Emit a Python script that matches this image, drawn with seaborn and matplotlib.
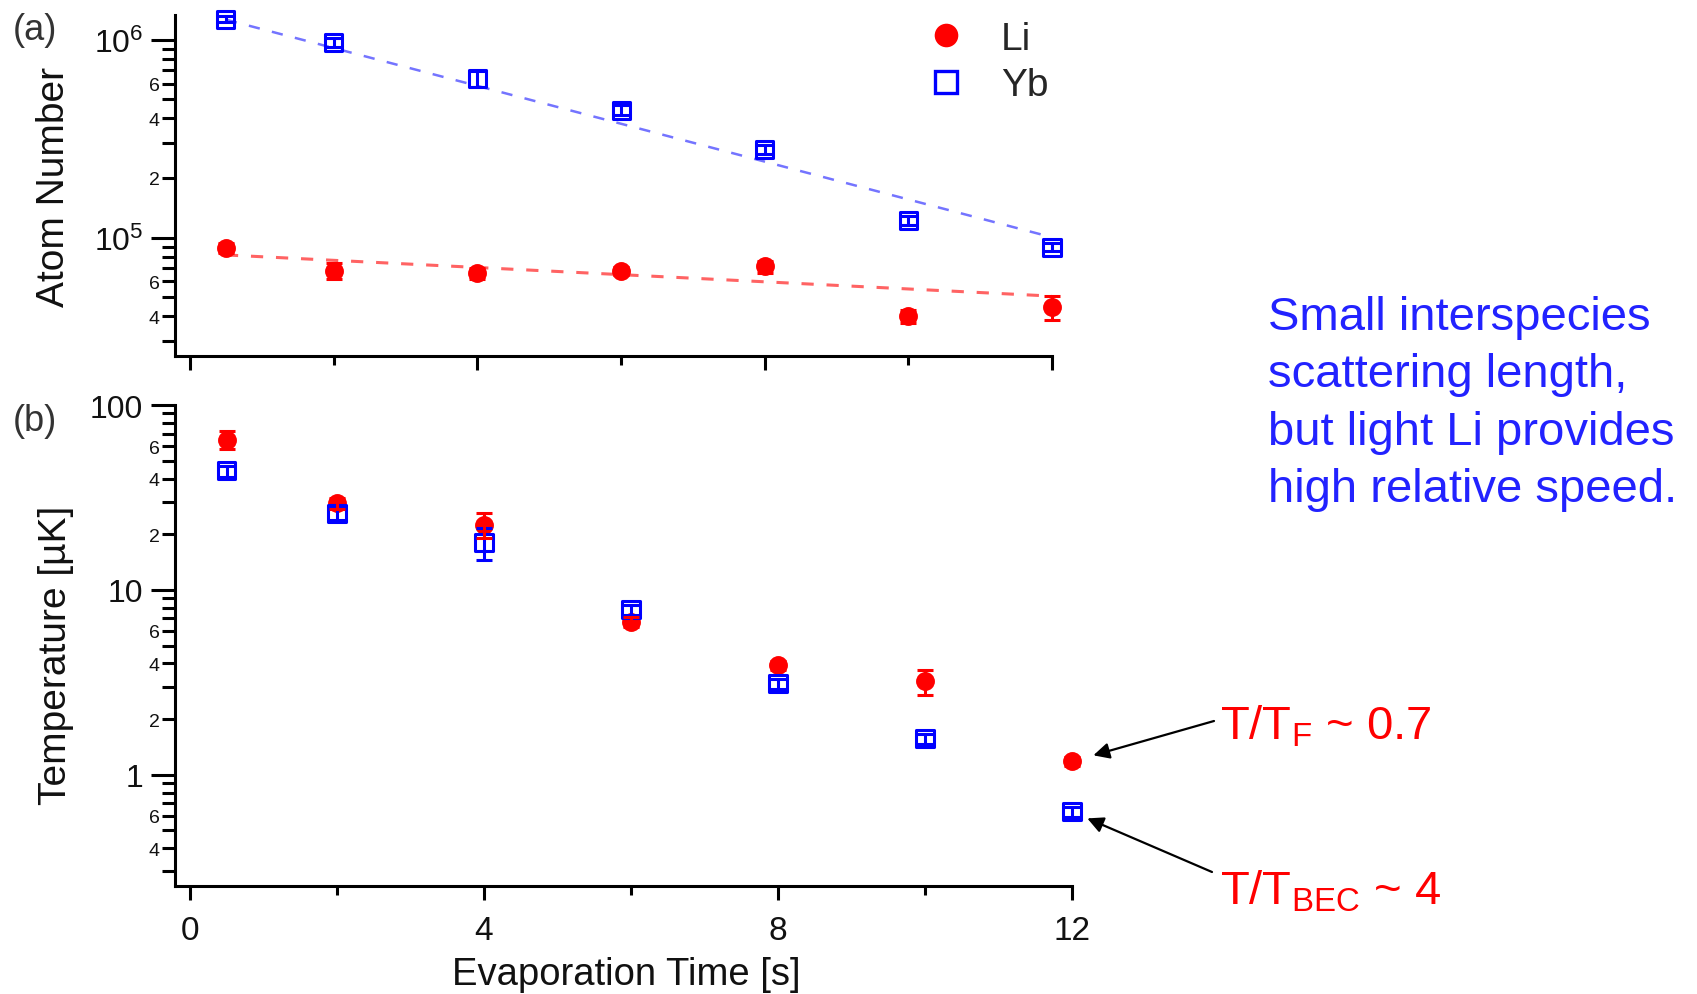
import numpy as np
import pandas as pd
import matplotlib
matplotlib.use("Agg")
import matplotlib.pyplot as plt
import seaborn as sns
from matplotlib.lines import Line2D
from matplotlib.ticker import FixedLocator, FixedFormatter, NullFormatter

# ---------------- data ----------------
# evaporation times [s]
time_s = [0.5, 2, 4, 6, 8, 10, 12]

# (a) atom numbers
li_number = [8.9e4, 6.8e4, 6.6e4, 6.8e4, 7.15e4, 4.0e4, 4.45e4]
li_number_err = [5e3, 6e3, 4e3, 3e3, 5e3, 3e3, 6e3]
yb_number = [1.27e6, 9.7e5, 6.35e5, 4.4e5, 2.8e5, 1.22e5, 8.95e4]
yb_number_err = [4e4, 5e4, 6e4, 2.5e4, 1.5e4, 6e3, 4e3]

# exponential decay fits  N(t) = N0 * exp(-t / tau)
li_fit_n0, li_fit_tau = 8.34e4, 24.0
yb_fit_n0, yb_fit_tau = 1.41e6, 4.54
fit_span = [0.5, 12]

# (b) temperatures [uK]
li_temp = [65, 29.5, 22.5, 6.7, 3.9, 3.2, 1.18]
li_temp_err = [7, 2, 3.5, 0.4, 0.2, 0.5, 0.07]
yb_temp = [44, 26, 18, 7.8, 3.1, 1.57, 0.63]
yb_temp_err = [3, 2, 3.5, 0.5, 0.2, 0.1, 0.04]

species = ["Li", "Yb"]
colors = {"Li": "#ff0000", "Yb": "#0000ff"}

# ---------------- style ----------------
sns.set_theme(style="ticks")
plt.rcParams["font.family"] = ["Liberation Sans", "DejaVu Sans"]
plt.rcParams["mathtext.fontset"] = "custom"
plt.rcParams["mathtext.rm"] = "Liberation Sans"
plt.rcParams["mathtext.it"] = "Liberation Sans:italic"
plt.rcParams["mathtext.bf"] = "Liberation Sans:bold"

W, H = 1697, 995
fig = plt.figure(figsize=(W / 100, H / 100), dpi=100)


def axes_px(left, top, right, bottom):
    return fig.add_axes([left / W, 1 - bottom / H, (right - left) / W, (bottom - top) / H])


ax_a = axes_px(175, 16, 1052, 357)
ax_b = axes_px(175, 406, 1072, 887)

df_a = pd.DataFrame({
    "time": time_s * 2,
    "value": li_number + yb_number,
    "err": li_number_err + yb_number_err,
    "species": ["Li"] * len(time_s) + ["Yb"] * len(time_s),
})
df_b = pd.DataFrame({
    "time": time_s * 2,
    "value": li_temp + yb_temp,
    "err": li_temp_err + yb_temp_err,
    "species": ["Li"] * len(time_s) + ["Yb"] * len(time_s),
})

# fit lines on panel (a)
fit_t = np.array(fit_span, dtype=float)
sns.lineplot(x=fit_t, y=yb_fit_n0 * np.exp(-fit_t / yb_fit_tau), ax=ax_a,
             color="#2a2aff", alpha=0.65, lw=1.8, linestyle=(0, (4.5, 5.0)), zorder=1)
sns.lineplot(x=fit_t, y=li_fit_n0 * np.exp(-fit_t / li_fit_tau), ax=ax_a,
             color="#ff1010", alpha=0.65, lw=2.2, linestyle=(0, (4.0, 4.2)), zorder=1)


def draw_points(ax, df):
    li = df[df.species == "Li"]
    yb = df[df.species == "Yb"]
    sns.scatterplot(data=li, x="time", y="value", ax=ax, color=colors["Li"], marker="o",
                    s=185, linewidth=0, clip_on=False, zorder=3, legend=False)
    sns.scatterplot(data=yb, x="time", y="value", ax=ax, marker="s", s=150,
                    facecolor="none", edgecolor=colors["Yb"], linewidth=2.2,
                    clip_on=False, zorder=4, legend=False)
    for sub, sp in ((yb, "Yb"), (li, "Li")):
        cont = ax.errorbar(sub["time"], sub["value"], yerr=sub["err"], fmt="none",
                           ecolor=colors[sp], elinewidth=2.2, capsize=6, capthick=2.2,
                           zorder=5)
        for art in cont.get_children():
            art.set_clip_on(False)


draw_points(ax_a, df_a)
draw_points(ax_b, df_b)

# ---------------- axes ----------------
for ax in (ax_a, ax_b):
    ax.set_yscale("log")
    sns.despine(ax=ax)
    for s in ("left", "bottom"):
        ax.spines[s].set_linewidth(2.2)
        ax.spines[s].set_color("black")
    ax.tick_params(axis="y", which="major", direction="out", length=17, width=2.2,
                   labelsize=23, pad=6, color="black", labelcolor="#111111")
    ax.tick_params(axis="y", which="minor", direction="out", length=9.5, width=2.2,
                   labelsize=14, pad=1.5, color="black", labelcolor="#111111")
    ax.tick_params(axis="x", which="major", direction="out", length=10, width=2.2,
                   labelsize=24, pad=11, color="black", labelcolor="#111111")
    ax.tick_params(axis="x", which="minor", direction="out", length=6.5, width=2.2,
                   color="black")
    ax.xaxis.set_major_locator(FixedLocator([0, 4, 8, 12]))
    ax.xaxis.set_minor_locator(FixedLocator([2, 6, 10]))
    ax.set_facecolor("white")

# panel (a) axes
ax_a.set_xlim(-0.209, 12)
ax_a.set_ylim(2.52e4, 1.333e6)
ax_a.xaxis.set_major_formatter(NullFormatter())
ax_a.yaxis.set_major_locator(FixedLocator([1e5, 1e6]))
ax_a.yaxis.set_major_formatter(FixedFormatter([r"$\mathregular{10^{5}}$", r"$\mathregular{10^{6}}$"]))
a_minor = [m * 10 ** e for e in (4, 5) for m in range(2, 10) if 2.5e4 < m * 10 ** e < 1.34e6]
a_minor_lab = {4e4: "4", 6e4: "6", 2e5: "2", 4e5: "4", 6e5: "6"}
ax_a.yaxis.set_minor_locator(FixedLocator(a_minor))
ax_a.yaxis.set_minor_formatter(FixedFormatter([a_minor_lab.get(v, "") for v in a_minor]))
ax_a.set_xlabel("")
ax_a.set_ylabel("Atom Number", fontsize=28, color="#111111")
ax_a.yaxis.set_label_coords(-0.117, 0.5)

# panel (b) axes
ax_b.set_xlim(-0.204, 12)
ax_b.set_ylim(0.25, 100)
ax_b.xaxis.set_major_formatter(FixedFormatter(["0", "4", "8", "12"]))
ax_b.yaxis.set_major_locator(FixedLocator([1, 10, 100]))
ax_b.yaxis.set_major_formatter(FixedFormatter(["1", "10", "100"]))
b_minor = [round(m * 10.0 ** e, 3) for e in (-1, 0, 1) for m in range(2, 10) if m * 10.0 ** e > 0.25]
b_minor_lab = {0.4: "4", 0.6: "6", 2.0: "2", 4.0: "4", 6.0: "6", 20.0: "2", 40.0: "4", 60.0: "6"}
ax_b.yaxis.set_minor_locator(FixedLocator(b_minor))
ax_b.yaxis.set_minor_formatter(FixedFormatter([b_minor_lab.get(v, "") for v in b_minor]))
ax_b.set_xlabel("Evaporation Time [s]", fontsize=27.5, color="#111111")
ax_b.xaxis.set_label_coords(0.503, -0.146)
ax_b.set_ylabel("Temperature [µK]", fontsize=28, color="#111111")
ax_b.yaxis.set_label_coords(-0.113, 0.482)

# panel letters
fig.text(13 / W, 1 - 13 / H, "(a)", fontsize=26, color="#333333", ha="left", va="top")
fig.text(13 / W, 1 - 404 / H, "(b)", fontsize=26, color="#333333", ha="left", va="top")

# legend
handles = [
    Line2D([], [], ls="", marker="o", ms=17, color=colors["Li"], mew=0),
    Line2D([], [], ls="", marker="s", ms=15.5, mfc="none", mec=colors["Yb"], mew=2.4),
]
ax_a.legend(handles, species, loc="upper left", bbox_to_anchor=(927 / W, 1 - 22 / H),
            bbox_transform=fig.transFigure, frameon=False, borderpad=0, borderaxespad=0,
            handlelength=1.0, handletextpad=0.9, labelspacing=0.27, fontsize=28)

# commentary on the right
note_lines = ["Small interspecies", "scattering length,", "but light Li provides",
              "high relative speed."]
for i, line in enumerate(note_lines):
    fig.text(1268 / W, 1 - (330 + 57.3 * i) / H, line, fontsize=34, color="#2222ff",
             ha="left", va="baseline")

# degeneracy labels with arrows to the coldest points
fig.text(1220 / W, 1 - 740 / H, r"T/T$_\mathregular{F}$ ~ 0.7", fontsize=34,
         color="#ff0000", ha="left", va="baseline")
fig.text(1220 / W, 1 - 905 / H, r"T/T$_\mathregular{BEC}$ ~ 4", fontsize=34,
         color="#ff0000", ha="left", va="baseline")
ax_b.annotate("", xy=(time_s[-1], li_temp[-1]), xycoords="data",
              xytext=(1214, H - 722), textcoords="figure pixels", annotation_clip=False,
              arrowprops=dict(arrowstyle="-|>", color="black", lw=1.6, shrinkA=0,
                              shrinkB=16, mutation_scale=24))
ax_b.annotate("", xy=(time_s[-1], yb_temp[-1]), xycoords="data",
              xytext=(1212, H - 873), textcoords="figure pixels", annotation_clip=False,
              arrowprops=dict(arrowstyle="-|>", color="black", lw=1.6, shrinkA=0,
                              shrinkB=12, mutation_scale=24))

fig.savefig("out.png", dpi=100, facecolor="white")
